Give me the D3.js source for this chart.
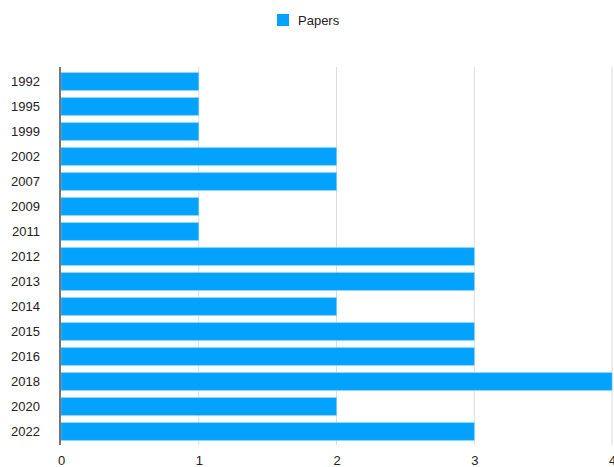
<!DOCTYPE html>
<html><head><meta charset="utf-8">
<script src="https://cdn.jsdelivr.net/npm/d3@7"></script>
<style>body{margin:0;background:#fff}svg{display:block}text{font-family:"Liberation Sans",Arial,Helvetica,sans-serif}</style>
</head><body><svg id="c" width="614" height="467"></svg>
<script>
const years = ["1992","1995","1999","2002","2007","2009","2011","2012","2013","2014","2015","2016","2018","2020","2022"];
const papers = [1,1,1,2,2,1,1,3,3,2,3,3,4,2,3];
const xTicks = [0,1,2,3,4];
const seriesName = "Papers";

const svg = d3.select("#c");
const x = d3.scaleLinear().domain([0,4]).range([61,612]);
const y = d3.scaleBand().domain(years).range([69,444]).paddingInner(0.3).paddingOuter(0.15);

// gridlines
svg.append("g").selectAll("line").data(xTicks.slice(1)).join("line")
  .attr("x1",d=>x(d)).attr("x2",d=>x(d)).attr("y1",67).attr("y2",445)
  .attr("stroke","#dcdcdc").attr("stroke-width",1);

// bars
svg.append("g").selectAll("rect").data(years).join("rect")
  .attr("x",x(0)).attr("y",d=>y(d))
  .attr("width",(d,i)=>x(papers[i])-x(0)).attr("height",y.bandwidth())
  .attr("fill","#03a2fe").attr("stroke","#6cc7ff").attr("stroke-width",0.6);

// axis line
svg.append("line").attr("x1",60).attr("x2",60).attr("y1",67).attr("y2",445)
  .attr("stroke","#555").attr("stroke-width",1.6);

// y labels
const ya = d3.axisLeft(y).tickSize(0).tickPadding(20);
const gy = svg.append("g").attr("transform","translate(60,0)").call(ya);
gy.select(".domain").remove();
gy.selectAll("text").attr("font-size",13).attr("fill","#222");

// x labels
const xa = d3.axisBottom(x).tickValues(xTicks).tickSize(0).tickPadding(11).tickFormat(d3.format("d"));
const gx = svg.append("g").attr("transform","translate(0,445)").call(xa);
gx.select(".domain").remove();
gx.selectAll("text").attr("font-size",13).attr("fill","#222");

// legend
const lg = svg.append("g");
lg.append("rect").attr("x",277).attr("y",14).attr("width",12).attr("height",12).attr("fill","#03a2fe");
lg.append("text").attr("x",298).attr("y",25).attr("font-size",13).attr("fill","#222").text(seriesName);
</script></body></html>
